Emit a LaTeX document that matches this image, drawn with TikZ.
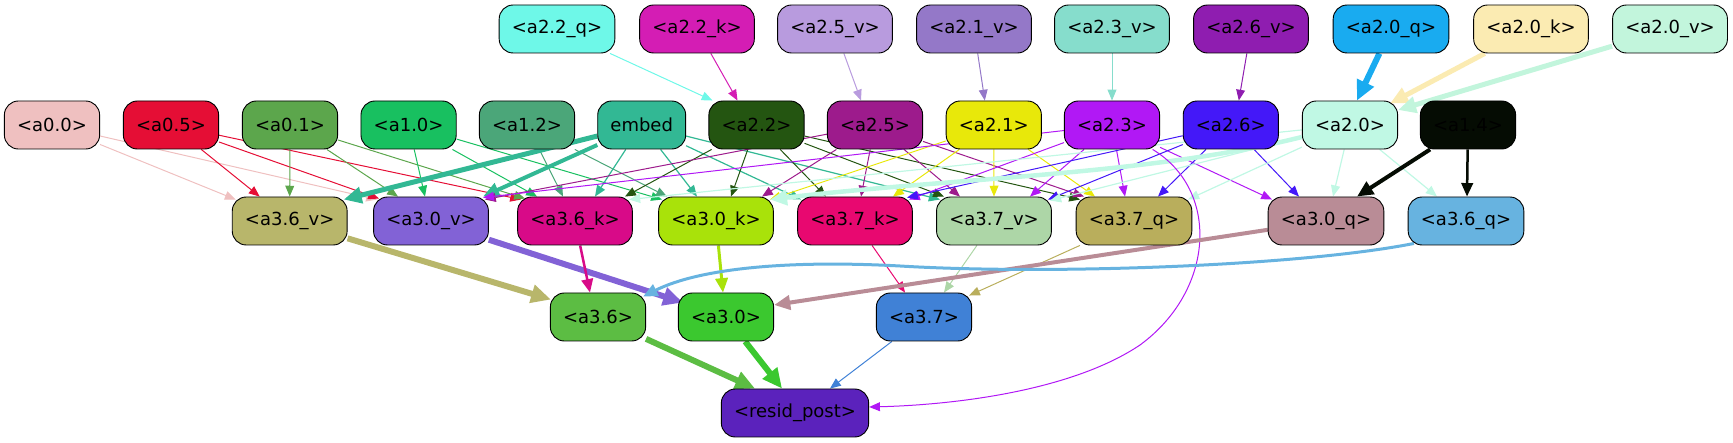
\documentclass[tikz,border=0pt]{standalone}
\usepackage{fontspec}
\setmainfont{DejaVu Sans}
\usetikzlibrary{arrows.meta,calc}
\pgfdeclarelayer{edgelayer}
\pgfsetlayers{edgelayer,main}
\definecolor{c22q}{HTML}{6EF8E8}
\definecolor{c22k}{HTML}{D41DB4}
\definecolor{c25v}{HTML}{B89BDE}
\definecolor{c21v}{HTML}{9478C8}
\definecolor{c23v}{HTML}{86DDCC}
\definecolor{c26v}{HTML}{8F1DB0}
\definecolor{c20q}{HTML}{19ABF0}
\definecolor{c20k}{HTML}{FBEBB2}
\definecolor{c20v}{HTML}{C2F5DC}
\definecolor{c00}{HTML}{EFC0C0}
\definecolor{c05}{HTML}{E50E35}
\definecolor{c01}{HTML}{5CA64C}
\definecolor{c10}{HTML}{18C060}
\definecolor{c12}{HTML}{4BA679}
\definecolor{cemb}{HTML}{32B894}
\definecolor{c22}{HTML}{245511}
\definecolor{c25}{HTML}{9D1B8C}
\definecolor{c21}{HTML}{E8E80A}
\definecolor{c23}{HTML}{B118F5}
\definecolor{c26}{HTML}{4418F8}
\definecolor{c20}{HTML}{C0F8E4}
\definecolor{c14}{HTML}{050C03}
\definecolor{c36v}{HTML}{B8B66B}
\definecolor{c30v}{HTML}{8262D6}
\definecolor{c36k}{HTML}{D80A88}
\definecolor{c30k}{HTML}{A9E20A}
\definecolor{c37k}{HTML}{E80870}
\definecolor{c37v}{HTML}{ADD6A7}
\definecolor{c37q}{HTML}{B9AE5C}
\definecolor{c30q}{HTML}{B98C96}
\definecolor{c36q}{HTML}{67B3E0}
\definecolor{c36}{HTML}{5CBD43}
\definecolor{c30}{HTML}{3BC82F}
\definecolor{c37}{HTML}{4081D6}
\definecolor{cres}{HTML}{5B22BC}
\tikzset{
  nd/.style={draw=black, line width=0.9pt, rounded corners=14pt, minimum height=48pt,
    inner xsep=12.7pt, inner ysep=0pt, font=\fontsize{18}{21}\selectfont, text=black, fill=#1},
  ed/.style 2 args={draw=#1, line width=#2, -{Triangle[length=9pt 1.8, width=7pt 1.8]}},
}
\begin{document}
\begin{tikzpicture}[x=1pt,y=-1pt]
\useasboundingbox (0,0) rectangle (1733,443);
% top row
\node[nd=c22q] (a22q) at (557,29) {<a2.2\_q>};
\node[nd=c22k] (a22k) at (697,29) {<a2.2\_k>};
\node[nd=c25v] (a25v) at (835,29) {<a2.5\_v>};
\node[nd=c21v] (a21v) at (974,29) {<a2.1\_v>};
\node[nd=c23v] (a23v) at (1112,29) {<a2.3\_v>};
\node[nd=c26v] (a26v) at (1251,29) {<a2.6\_v>};
\node[nd=c20q] (a20q) at (1391,29) {<a2.0\_q>};
\node[nd=c20k] (a20k) at (1531,29) {<a2.0\_k>};
\node[nd=c20v] (a20v) at (1670,29) {<a2.0\_v>};
% second row
\node[nd=c00] (a00) at (52,125) {<a0.0>};
\node[nd=c05] (a05) at (171,125) {<a0.5>};
\node[nd=c01] (a01) at (290,125) {<a0.1>};
\node[nd=c10] (a10) at (408.6,125) {<a1.0>};
\node[nd=c12] (a12) at (527,125) {<a1.2>};
\node[nd=cemb] (emb) at (641.7,125) {embed};
\node[nd=c22] (a22) at (756.5,125) {<a2.2>};
\node[nd=c25] (a25) at (875,125) {<a2.5>};
\node[nd=c21] (a21) at (993.8,125) {<a2.1>};
\node[nd=c23] (a23) at (1112,125) {<a2.3>};
\node[nd=c26] (a26) at (1230.8,125) {<a2.6>};
\node[nd=c20] (a20) at (1350,125) {<a2.0>};
\node[nd=c14] (a14) at (1468,125) {<a1.4>};
% third row
\node[nd=c36v] (a36v) at (289.7,221) {<a3.6\_v>};
\node[nd=c30v] (a30v) at (431,221) {<a3.0\_v>};
\node[nd=c36k] (a36k) at (575,221) {<a3.6\_k>};
\node[nd=c30k] (a30k) at (716,221) {<a3.0\_k>};
\node[nd=c37k] (a37k) at (855,221) {<a3.7\_k>};
\node[nd=c37v] (a37v) at (994,221) {<a3.7\_v>};
\node[nd=c37q] (a37q) at (1134,221) {<a3.7\_q>};
\node[nd=c30q] (a30q) at (1326,221) {<a3.0\_q>};
\node[nd=c36q] (a36q) at (1466,221) {<a3.6\_q>};
% fourth row
\node[nd=c36] (a36) at (598,317) {<a3.6>};
\node[nd=c30] (a30) at (726,317) {<a3.0>};
\node[nd=c37] (a37) at (924,317) {<a3.7>};
\node[nd=cres] (res) at (795,413) {<resid\_post>};

\begin{pgfonlayer}{edgelayer}
% top row -> second row
\draw[ed={c22q}{1pt}] (a22q) -- ([xshift=-44pt]a22.north);
\draw[ed={c22k}{1pt}] (a22k) -- ([xshift=-19pt]a22.north);
\draw[ed={c25v}{1pt}] (a25v) -- ([xshift=-14pt]a25.north);
\draw[ed={c21v}{1pt}] (a21v) -- ([xshift=-9pt]a21.north);
\draw[ed={c23v}{1pt}] (a23v) -- (a23.north);
\draw[ed={c26v}{1pt}] (a26v) -- ([xshift=8pt]a26.north);
\draw[ed={c20q}{6pt}] (a20q) -- ([xshift=7pt]a20.north);
\draw[ed={c20k}{5pt}] (a20k) -- ([xshift=-8pt,yshift=-3pt]a20.north east);
\draw[ed={c20v}{5pt}] (a20v) -- ([yshift=15pt]a20.east);
% second row -> third row
\draw[ed={c00}{1pt}] (a00) -- ([xshift=-54pt,yshift=-3pt]a36v.north);
\draw[ed={c00}{1pt}] (a00) -- ([xshift=-54pt,yshift=-3pt]a30v.north);
\draw[ed={c05}{1pt}] (a05) -- ([xshift=-30pt]a36v.north);
\draw[ed={c05}{1pt}] (a05) -- ([xshift=-52pt,yshift=-2pt]a30v.north);
\draw[ed={c05}{1pt}] (a05) -- ([xshift=-54pt,yshift=-3pt]a36k.north);
\draw[ed={c01}{1pt}] (a01) -- (a36v.north);
\draw[ed={c01}{1pt}] (a01) -- ([xshift=-33pt]a30v.north);
\draw[ed={c01}{1pt}] (a01) -- ([xshift=-50pt,yshift=-2pt]a36k.north);
\draw[ed={c10}{1pt}] (a10) -- ([xshift=-6pt]a30v.north);
\draw[ed={c10}{1pt}] (a10) -- ([xshift=-38pt]a36k.north);
\draw[ed={c10}{1pt}] (a10) -- ([xshift=-54pt,yshift=-3pt]a30k.north);
\draw[ed={c12}{1pt}] (a12) -- ([xshift=-12pt]a36k.north);
\draw[ed={c12}{1pt}] (a12) -- ([xshift=-49pt]a30k.north);
\draw[ed={cemb}{5pt}] (emb) -- ([xshift=54pt,yshift=-3pt]a36v.north);
\draw[ed={cemb}{4pt}] (emb) -- ([xshift=52pt]a30v.north);
\draw[ed={cemb}{1.2pt}] (emb) -- ([xshift=20pt]a36k.north);
\draw[ed={cemb}{1.2pt}] (emb) -- ([xshift=-19pt]a30k.north);
\draw[ed={cemb}{1.2pt}] (emb) -- ([xshift=-54pt,yshift=-3pt]a37k.north);
\draw[ed={cemb}{1.2pt}] (emb) -- ([xshift=-54pt,yshift=-3pt]a37v.north);
\draw[ed={c22}{1pt}] (a22) -- ([xshift=50pt]a36k.north);
\draw[ed={c22}{1pt}] (a22) -- ([xshift=15pt]a30k.north);
\draw[ed={c22}{1pt}] (a22) -- ([xshift=-29pt]a37k.north);
\draw[ed={c22}{1pt}] (a22) -- ([xshift=-50pt]a37v.north);
\draw[ed={c22}{1pt}] (a22) -- ([xshift=-54pt,yshift=-3pt]a37q.north);
\draw[ed={c25}{1pt}] (a25) -- ([xshift=54pt,yshift=-3pt]a30v.north);
\draw[ed={c25}{1pt}] (a25) -- ([xshift=46pt]a30k.north);
\draw[ed={c25}{1pt}] (a25) -- ([xshift=6pt]a37k.north);
\draw[ed={c25}{1pt}] (a25) -- ([xshift=-34pt]a37v.north);
\draw[ed={c25}{1pt}] (a25) -- ([xshift=-50pt]a37q.north);
\draw[ed={c21}{1pt}] (a21) -- ([xshift=54pt,yshift=-3pt]a30k.north);
\draw[ed={c21}{1pt}] (a21) -- ([xshift=38pt]a37k.north);
\draw[ed={c21}{1pt}] (a21) -- (a37v.north);
\draw[ed={c21}{1pt}] (a21) -- ([xshift=-39pt]a37q.north);
\draw[ed={c23}{1pt}] (a23) -- ([xshift=52pt,yshift=-1pt]a30v.north);
\draw[ed={c23}{1pt}] (a23) -- ([xshift=54pt,yshift=-3pt]a37k.north);
\draw[ed={c23}{1pt}] (a23) -- ([xshift=36pt]a37v.north);
\draw[ed={c23}{1pt}] (a23) -- ([xshift=-9pt]a37q.north);
\draw[ed={c23}{1pt}] (a23) -- ([xshift=-54pt,yshift=-3pt]a30q.north);
\draw[ed={c26}{1pt}] (a26) -- ([xshift=52pt,yshift=-1pt]a37k.north);
\draw[ed={c26}{1pt}] (a26) -- ([xshift=54pt,yshift=-3pt]a37v.north);
\draw[ed={c26}{1pt}] (a26) -- ([xshift=24pt]a37q.north);
\draw[ed={c26}{1pt}] (a26) -- ([xshift=-27pt]a30q.north);
\draw[ed={c20}{1.2pt}] (a20) -- ([xshift=54pt,yshift=-3pt]a36k.north);
\draw[ed={c20}{4.5pt}] (a20) .. controls (1150,175) and (950,178) .. ([xshift=54pt,yshift=-3pt]a30k.north);
\draw[ed={c20}{1.2pt}] (a20) -- ([xshift=56pt,yshift=-4pt]a37v.north);
\draw[ed={c20}{1.2pt}] (a20) -- ([xshift=54pt,yshift=-3pt]a37q.north);
\draw[ed={c20}{1.2pt}] (a20) -- ([xshift=7pt]a30q.north);
\draw[ed={c20}{1.2pt}] (a20) -- ([xshift=-29pt]a36q.north);
\draw[ed={c14}{4pt}] (a14) -- ([xshift=31pt]a30q.north);
\draw[ed={c14}{2.5pt}] (a14) -- ([xshift=1pt]a36q.north);
\draw[ed={c23}{1pt}] (a23) .. controls (1220,190) and (1215,290) .. (1140,345) .. controls (1070,392) and (950,405) .. ([yshift=6pt]res.east);
% third row -> fourth row
\draw[ed={c36v}{6pt}] (a36v) -- ([xshift=1pt,yshift=-7pt]a36.north west);
\draw[ed={c30v}{6pt}] (a30v) -- ([xshift=5pt,yshift=-10pt]a30.north west);
\draw[ed={c36k}{2.5pt}] (a36k) -- ([xshift=-8pt]a36.north);
\draw[ed={c30k}{3pt}] (a30k) -- ([xshift=-3pt]a30.north);
\draw[ed={c37k}{1pt}] (a37k) -- ([xshift=-19pt]a37.north);
\draw[ed={c37v}{1pt}] (a37v) -- ([xshift=20pt]a37.north);
\draw[ed={c37q}{1pt}] (a37q) -- ([xshift=-3pt,yshift=-3pt]a37.north east);
\draw[ed={c30q}{4pt}] (a30q) -- ([yshift=12pt]a30.east);
\draw[ed={c36q}{3pt}] ([xshift=-52pt,yshift=2pt]a36q.south) .. controls (1300,266) and (1050,275) .. (900,266) .. controls (790,260) and (700,268) .. ([xshift=-3pt,yshift=-4pt]a36.north east);
% fourth row -> resid
\draw[ed={c36}{6pt}] (a36) -- ([xshift=-40pt]res.north);
\draw[ed={c30}{6pt}] (a30) -- ([xshift=-13pt]res.north);
\draw[ed={c37}{1pt}] (a37) -- ([xshift=35pt]res.north);
\end{pgfonlayer}
\end{tikzpicture}
\end{document}
